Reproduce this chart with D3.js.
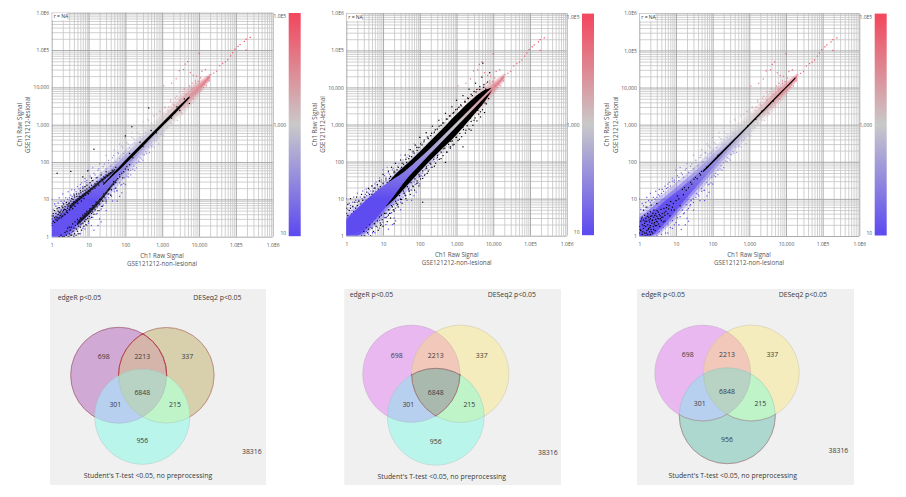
<!DOCTYPE html>
<html>
<head>
<meta charset="utf-8">
<script src="https://cdnjs.cloudflare.com/ajax/libs/d3/7.8.5/d3.min.js"></script>
<style>
  html, body { margin: 0; padding: 0; background: #fff; }
  svg { display: block; }
  text { font-family: "Open Sans", "Noto Sans", sans-serif; }
</style>
</head>
<body>
<svg id="chart" width="906" height="497"></svg>
<script>
// ---- Axis labels ----------------------------------------------------------
const decades = [1, 10, 100, 1000, 10000, 100000, 1000000];
const decadeLabels = ["1", "10", "100", "1,000", "10,000", "1.0E5", "1.0E6"];
const colorTicks = [10, 1000, 100000];
const colorTickLabels = ["10", "1,000", "1.0E5"];
const xTitle = ["Ch1 Raw Signal", "GSE121212-non-lesional"];
const yTitle = ["Ch1 Raw Signal", "GSE121212-lesional"];
const corrLabel = "r = NA";

// ---- Dense expression cloud shared by all three plots ---------------------
const cloudX    = [1, 1.5, 2, 3, 5, 10, 20, 50, 100, 200, 500, 1000, 2000, 5000, 10000, 20000];
const cloudLow  = [1, 1, 1, 1.3, 2.2, 4.8, 11, 31, 68, 145, 385, 810, 1620, 4100, 8500, 18500];
const cloudHigh = [2.6, 3.4, 4.3, 5.6, 8.8, 15, 27, 60, 118, 235, 580, 1180, 2350, 5800, 11000, 20500];
const midLow    = [1, 1, 1, 1.1, 1.8, 3.8, 8.5, 24, 53, 115, 310, 660, 1330, 3300, 7300, 16500];
const midHigh   = [3.2, 4.3, 5.4, 7.6, 11.5, 20, 36, 80, 160, 315, 770, 1550, 3100, 7500, 13000, 22500];
const haloLow   = [1, 1, 1, 1, 1.5, 3, 6.5, 18, 40, 90, 240, 520, 1050, 2600, 6000, 15000];
const haloHigh  = [4, 5.5, 7, 10, 15, 27, 48, 110, 220, 430, 1000, 2000, 4000, 9500, 15000, 24000];

// Individually visible genes outside the dense cloud
const genePoints = [
  [245000,218000],[190000,195000],[170000,170000],[130000,140000],[115000,125000],[95000,105000],[190000,100000],
  [82000,85000],[72000,70000],[60000,55000],[52000,48000],[44000,44000],[36000,38000],[30000,27000],[25000,24000],
  [21000,22000],[17000,18000],[10000,81000],[4900,49000],[4200,42000],[3800,30000],[2900,28000],[2400,17000],
  [1800,13000],[1100,11000],[5800,25000],[7000,21000],[8500,20000],[12000,27000],[15000,30000],[14000,12000],
  [19000,15000],[16000,11000],[9000,7500],[7000,5000],[5000,3200],[3500,2000],[2600,1300],[3000,4500],[2000,3500],
  [1500,3000],[1200,2800],[900,2200],[700,1900],[2300,5200],[1700,4600],[1000,2600],[4000,9000],[3000,7600],
  [6500,13000],[8000,15000],[1100,500],[800,300],[600,250],[450,180],[300,110],[250,100],[180,60],[120,40],[90,27],
  [60,17],[40,13],[30,10],[25,7],[20,5],[600,1800],[400,1400],[300,1200],[200,800],[150,600],[100,450],[70,300],
  [50,210],[30,150],[20,90],[13,70],[10,60],[15,45],[8,30],[6,25],[5,22],[3.5,18],[2.8,16],[2,14],[1.6,11],[1,10],
  [1.2,7.5],[1.5,8],[2.2,9],[3,11],[4,14],[6,20],[9,32],[12,38],[18,60],[25,75],[35,95],[45,130],[65,170],[85,240],
  [120,300],[170,420],[240,560],[350,800],[500,1100],[18,2],[22,2.5],[14,1.5],[12,2],[20,3],[30,5],[45,9],[60,9],
  [80,15],[100,25],[70,12],[140,45],[200,70],[280,120],[380,170],[520,260],[700,380],[950,560],[1300,800],[1800,1100],
  [8,1.6],[6,1.2],[10,2.3],[16,4],[24,6.5],[35,11],[50,16],[75,24],[110,42],[160,64],[230,105],[330,155],
  [1.1,5.2],[1.3,6.5],[1.5,6],[1.8,9],[2,8],[2.4,11],[2.7,10],[3.3,13],[3.6,12],[4.2,18],[4.6,16],[5.5,19],[6.5,28],
  [7,22],[8,36],[9,28],[11,42],[12,31],[14,50],[16,38],[19,66],[22,52],[27,88],[30,65],[35,110],[40,78],[48,150],
  [55,100],[62,180],[70,125],[80,270],[90,170],[110,330],[130,240],[150,460],[180,320],[210,620],[250,440],[300,900],
  [360,620],[420,1300],[500,880],[600,1700],[720,1200],[850,2300],[1000,1700],[1200,3000],[1450,2400],[1700,4100],
  [2100,3300],[2500,5800],[3000,4600],[3600,7800],[4500,6500],[5500,11000],[6500,9000],[8000,13000],[9500,14500],
  [11000,18000],[3,1],[3.5,1.3],[4,1.1],[4.5,1.7],[5.2,1.2],[6,2.1],[7,1.7],[8,2.6],[9,2],[11,3.1],[13,3.3],[15,5],
  [17,4.2],[19,7],[22,5.5],[26,9],[30,8],[36,14],[42,12],[50,19],[58,17],[70,28],[80,25],[95,38],[120,48],[140,60],
  [170,78],[200,95],[250,130],[300,160],[360,190],[430,250],[500,280],[620,380],[750,440],[900,560],[1100,690],
  [1400,850],[1700,1100],[2100,1350],[2600,1800],[3300,2100],[4000,2900],[5000,3800],[6500,5000],[8000,6500],
  [11000,8500],[13000,10000]
];

// ---- Highlighted genes, one set per plot ----------------------------------
const edgeBandUpperX = [3, 5, 10, 25, 50];
const edgeBandUpperLow = [5.5, 8.5, 15, 32, 55];
const edgeBandUpperHigh = [6.6, 10.4, 18, 38, 62];
const edgeBandLowerX = [5, 10, 20, 40, 60];
const edgeBandLowerLow = [2, 3.8, 8, 20, 33];
const edgeBandLowerHigh = [2.6, 5, 10.5, 24, 37];
const edgeCoreX = [25, 50, 100, 300, 1000, 3000, 5500];
const edgeCoreLow = [24, 46, 89, 265, 890, 2720, 5200];
const edgeCoreHigh = [26, 54, 112, 340, 1120, 3300, 5800];
const edgePoints = [
  [1,2.3],[1,3],[1.1,2.6],[1.1,3.6],[1.2,2.4],[1.2,3.2],[1.3,2.9],[1.3,4.2],[1.4,3.3],[1.4,2.7],[1.5,3.9],[1.5,4.8],
  [1.6,3.2],[1.6,4.4],[1.7,3.7],[1.8,5.2],[1.8,4.1],[1.9,3.5],[2,4.6],[2,6],[2.1,5.1],[2.2,4],[2.3,6.4],[2.4,5.3],
  [2.5,4.6],[2.6,7.2],[2.7,5.8],[2.8,6.6],[3,5.4],[3,8],[3.2,6.9],[3.3,9],[3.5,6.3],[3.6,7.7],[3.8,10],[4,7],[4,8.6],
  [4.2,11.5],[4.5,8.2],[4.6,9.6],[4.8,12],[5,9],[5.2,10.5],[5.5,14],[5.7,10],[6,11.8],[6.2,15],[6.5,11],[6.8,13],
  [7,16.5],[7.3,12],[7.6,14],[8,17.5],[8.3,13],[8.6,15.5],[9,19],[9.5,14.5],[10,17],[10.5,21],[11,16],[11.5,19],
  [12,24],[13,19],[14,22],[15,26],[16,23],[17,30],[18,26],[20,30],[22,35],[24,33],[26,40],[28,38],[30,45],[33,43],
  [36,50],[40,52],[44,60],[50,62],[55,72],
  [2.2,1],[2.5,1.1],[2.8,1],[2.6,1.4],[3,1.2],[3.2,1.5],[3.5,1.1],[3.4,1.8],[3.8,1.4],[4,1.7],[4.2,1.2],[4.4,2],
  [4.7,1.6],[5,2.2],[5,1.4],[5.4,1.9],[5.8,2.5],[6,1.8],[6.3,2.2],[6.6,2.9],[7,2.3],[7.4,3.1],[7.8,2.6],[8,3.5],
  [8.5,2.9],[9,3.8],[9.5,3.1],[10,4.2],[10.5,3.5],[11,4.9],[12,4.2],[12.5,5.5],[13,4.6],[14,6.2],[15,5.4],[16,7.2],
  [17,6.3],[18,8],[20,7.5],[22,10],[24,9],[26,12],[28,11],[30,15],[34,14],[38,19],[42,18],[48,25],[55,28],[62,36],
  [70,40],[80,50],[90,55],[110,75],[130,85],[1.4,50],[3.3,56],[14,220],[9.5,58],[7,40],[12,37],[150,880],[100,500],
  [430,2800],[5500,3700],[4000,4900],[2200,2100],[1800,1500],[700,600],[500,700],[300,260],[250,340],[160,130],
  [130,170],[3000,2400],[2500,3000],
  [1,2],[1,3.6],[1.1,4.2],[1.2,5],[1.3,3.4],[1.4,5.6],[1.5,3],[1.6,6],[1.7,4.6],[1.8,3.2],[1.9,6.6],[2,3.6],[2.1,7.5],
  [2.2,5.4],[2.3,3.9],[2.5,8.3],[2.6,5],[2.7,4.4],[2.9,7.6],[3.1,5.2],[3.3,6],[3.5,10.5],[3.7,5.6],[3.9,8.4],[4.1,13],
  [4.3,6.5],[4.7,14],[5.1,7.8],[5.6,12],[6,17],[6.4,9],[7,20],[7.5,10.5],[8,22],[9,24],[10,14],[11,28],[13,32],[15,20],
  [17,38],[19,24],[22,45],[25,29],[30,55],
  [1.6,1],[1.8,1.1],[2,1],[2.3,1.3],[2.7,1.7],[3,1.8],[3.3,1.1],[3.7,2.2],[4,1],[4.3,2.5],[4.6,1.1],[5,2.9],[5.5,1.2],
  [6,3.2],[6.5,1.5],[7,3.8],[7.5,1.9],[8,4.2],[8.5,2.1],[9,4.8],[10,2.6],[11,5.6],[12,3.3],[13,6.8],[14,4],[16,8.5],
  [18,5],[20,10],[23,6.5],[26,14],[30,9],[35,18],[40,13],[48,30],[55,20],[70,46],[85,38],[100,65],[120,62]
];

const deseqBandX = [12, 20, 40, 100, 300, 1000, 3000, 6000, 9000];
const deseqBandLow = [6, 9.5, 20, 54, 165, 530, 1850, 4300, 8000];
const deseqBandHigh = [22, 42, 78, 185, 550, 1900, 5300, 8600, 9800];
const coreX = [1, 3, 10, 20, 40, 100, 300, 1000, 3000, 6000, 12000];
const coreLow = [1, 1.5, 5, 12, 30, 82, 255, 885, 2700, 5500, 11000];
const coreHigh = [2.8, 8, 22, 35, 56, 124, 350, 1130, 3350, 6600, 13000];
const deseqPoints = [
  [1,4],[1,5.5],[1.1,3.5],[1.1,7],[1.2,4.8],[1.3,10],[1.3,5.5],[1.4,3.8],[1.5,6.2],[1.6,4.5],[1.7,8],[1.8,5.5],[1.9,11],
  [2,6.5],[2.2,8.5],[2.3,5.6],[2.5,7.2],[2.6,13],[2.8,9],[3,7.4],[3.2,11],[3.5,9],[3.6,15],[4,10],[4,19],[4.3,13],
  [4.5,11],[5,13],[5,22],[5.4,16],[5.8,13],[6,19],[6.5,15],[7,24],[7.5,18],[8,16],[8,30],[8.5,21],[9,18],[10,26],
  [10,45],[11,22],[12,34],[13,27],[14,55],[15,30],[16,40],[17,70],[18,36],[20,50],[22,90],[24,60],[27,46],[30,110],
  [32,70],[36,85],[40,150],[44,95],[50,120],[55,210],[60,135],[70,170],[75,280],[85,200],[95,240],[100,450],[115,280],
  [130,340],[150,600],[170,420],[200,500],[220,900],[250,620],[300,750],[330,1300],[380,950],[450,1100],[500,2000],
  [560,1400],[650,1700],[750,3000],[800,2000],[950,2500],[1000,4500],[1150,2900],[1300,3400],[1500,6000],[1700,4200],
  [2000,5200],[2200,9000],[2500,6500],[3000,7800],[3300,13000],[3600,8800],[4300,10500],[4900,19000],[5200,45000],[5600,12000],
  [7000,14000],[8000,25000],[2.6,1],[3,1.3],[3.2,1],[3.5,1.7],[3.8,1.2],[4,1.5],[4.3,2],[4.6,1],[5,1.6],[5,2.4],
  [5.5,1.3],[5.8,2.1],[6,3],[6.5,1.8],[7,2.5],[7.4,1.4],[8,3.2],[8.4,2.2],[9,3.6],[9.5,2.7],[10,1.8],[11,4],[12,3.1],
  [13,2.4],[14,5],[15,4],[16,3],[18,6],[20,4.6],[23,7.5],[26,6],[30,9.5],[33,7.5],[38,14],[42,10],[50,18],[55,13],
  [65,22],[72,17],[85,30],[100,40],[120,35],[150,65],[160,48],[200,85],[250,75],[300,130],[380,120],[450,220],[550,180],
  [700,350],[800,280],[1000,450],[1200,400],[1500,850],[1800,700],[2400,1500],[3000,1300],[3800,2400],[4500,2200],
  [6000,3800],[7500,5000],[120,8],[8.5,1.9],[20,2.1],[95,22],[500,95],[680,250],[2500,700],[1500,250],
  [15,35],[18,30],[20,55],[23,40],[26,70],[29,52],[33,90],[37,62],[42,115],[47,80],[53,140],[60,100],[66,190],[74,125],
  [83,240],[92,150],[105,300],[118,190],[132,380],[148,240],[165,460],[185,300],[210,580],[235,380],[265,720],[295,470],
  [335,900],[375,590],[420,1100],[470,740],[530,1400],[590,940],[670,1700],[750,1200],[840,2100],[940,1500],[1060,2600],
  [1190,1900],[1340,3200],[1500,2400],[1700,4000],[1900,3000],[2100,5000],[2400,3700],[2700,6000],[3000,4700],[3400,7500],
  [3800,5800],[4300,8800],[4800,7200],[5500,10000],[6200,9000],
  [12,4],[14,3.6],[17,6.5],[19,5],[22,8.5],[25,7],[28,12],[32,9.5],[36,16],[40,12],[46,21],[52,16],[58,27],[66,21],[74,34],
  [84,26],[95,44],[105,34],[120,56],[135,43],[152,72],[170,55],[190,90],[215,70],[240,115],[270,90],[305,145],[340,115],
  [385,180],[430,145],[480,230],[540,180],[610,290],[680,230],[770,360],[860,290],[970,450],[1100,370],[1230,570],[1380,470],
  [1550,730],[1750,590],[1950,930],[2200,750],[2500,1200],[2800,950],[3200,1500],[3600,1250],[4000,1900],[4500,1600],
  [5100,2500],[5800,2100],[6500,3600]
];

const ttestLineX = [55, 100, 300, 1000, 3000, 10000, 18000];
const ttestLineLow = [52, 93, 280, 940, 2820, 9500, 17200];
const ttestLineHigh = [58, 107, 320, 1060, 3180, 10500, 18800];
const ttestPoints = [
  [1,1.2],[1,1.8],[1.1,2.5],[1.1,1.4],[1.2,1.1],[1.2,2],[1.2,3.2],[1.3,1.6],[1.3,2.7],[1.4,1.2],[1.4,2.2],[1.4,3.6],
  [1.5,1.8],[1.5,1],[1.5,3],[1.6,1.4],[1.6,2.5],[1.7,1.1],[1.7,2],[1.7,4],[1.8,1.6],[1.8,3.2],[1.9,1.3],[1.9,2.4],
  [2,1.1],[2,1.9],[2,2.9],[2,4.5],[2.1,1.5],[2.2,3.5],[2.2,2.2],[2.3,1.2],[2.3,2.7],[2.4,1.8],[2.5,3.2],[2.5,5],[2.6,2.3],
  [2.7,1.4],[2.8,2.8],[2.8,4],[3,1.9],[3,3.4],[3.1,2.4],[3.3,4.4],[3.4,2.9],[3.6,1.8],[3.7,3.5],[3.9,5.2],[4,2.6],[4.2,4],
  [4.4,3.2],[4.7,5.5],[5,3.6],[5,2.5],[5.3,4.6],[5.7,7],[6,4],[6.3,5.4],[6.8,3.5],[7.2,8.5],[8,6],[8.5,7.5],[9,5],
  [10,9],[11,12],[12,10],[13,6.5],[15,18],[16,13],[19,17],[22,20],[27,25],[31,34],[38,35],[44,48],[50,55],
  [3,7.5],[1.6,6],[1.3,5],[2.1,6.8],[300,290],[140,150],[70,72],[900,930],[1500,1400],[2200,2300],[4500,4300],
  [1.05,1.5],[1.15,2.9],[1.25,1.3],[1.35,1.9],[1.45,2.5],[1.55,1.2],[1.65,3.4],[1.75,1.5],[1.85,2.7],[1.95,1.7],[2.05,3.4],
  [2.15,1.3],[2.25,2.6],[2.35,4.1],[2.45,1.5],[2.55,2.1],[2.65,3.6],[2.75,1.9],[2.9,2.5],[3.05,4.8],[3.2,3],[3.35,2.1],
  [3.5,3.8],[3.8,2.9],[4.1,3.2],[4.5,2.4],[4.8,4.2],[5.5,5.8],[6.5,6.6],[7.5,5],[17,20],[25,28],[34,38],[47,44]
];

// ---- Venn diagram contents ------------------------------------------------
const vennSetNames = ["edgeR p<0.05", "DESeq2 p<0.05", "Student's T-test <0.05, no preprocessing"];
const vennCounts = [698, 2213, 337, 6848, 301, 215, 956];
const vennOutside = 38316;

// ---- Layout ---------------------------------------------------------------
const plots = [
  { left: 51.7, right: 272.7, top: 12.7, bottom: 236.7, bar: 288.7, yT1: 20, yT2: 28, xC: 162, xT1: 256, xT2: 264 },
  { left: 346.3, right: 566.7, top: 13.3, bottom: 235.7, bar: 582, yT1: 315, yT2: 323, xC: 456.7, xT1: 255, xT2: 263 },
  { left: 639.3, right: 859.3, top: 13.3, bottom: 236, bar: 874.7, yT1: 607, yT2: 616, xC: 749, xT1: 255, xT2: 263 }
];
const vennLayouts = [
  { bg: [50, 289, 216, 196], A: [118.7, 375.3, 48], B: [166.3, 375.3, 47.8], C: [142.3, 416.7, 47.7],
    name0: [57.7, 298], name1: [193.3, 298], name2: [148, 476.5], outside: [261.7, 452.5],
    counts: [[103.7,357.5],[142.3,357.5],[187.3,357.5],[142.3,393.5],[115.3,405.5],[175,405.5],[142.3,441.5]] },
  { bg: [344.3, 289, 216.7, 196], A: [411.3, 373.8, 48.7], B: [460.3, 373.8, 48.7], C: [435.8, 416.8, 48.5],
    name0: [349.7, 295.5], name1: [487.7, 295.5], name2: [441.7, 477.5], outside: [557.7, 453],
    counts: [[396.7,356],[435.7,356],[481.7,356],[435.7,393],[408.3,405],[469.3,405],[435.7,442]] },
  { bg: [637, 289, 217, 196], A: [702.7, 373, 48], B: [751.3, 373, 48], C: [727.3, 415.7, 48],
    name0: [641.3, 295], name1: [778.7, 295], name2: [732.7, 476.5], outside: [848.3, 451.5],
    counts: [[687.7,355.5],[727,355.5],[772.3,355.5],[727,392],[699.7,404],[760.3,404],[727,440.5]] }
];
const plainFill = { A: "#e9b8f0", B: "#f4ecbc", C: "#baf5ec", AB: "#f2c8ba", AC: "#b8d0f0", BC: "#bff3c8", ABC: "#b8d2c4" };
const vennFills = [
  Object.assign({}, plainFill, { A: "#d0a9d4", B: "#d8cfac", AB: "#d5b5aa" }),
  Object.assign({}, plainFill, { ABC: "#a9b9ae" }),
  Object.assign({}, plainFill, { C: "#acd8d0" })
];

const signalColor = d3.scaleLog().domain([10, 1000, 100000])
  .range(["#5f4cf0", "#c9c9c9", "#f2495f"]).interpolate(d3.interpolateRgb).clamp(true);

const svg = d3.select("#chart");
const defs = svg.append("defs");

function envelope(x, y, xs, lows, highs) {
  return d3.area().x((d, i) => x(xs[i])).y0((d, i) => y(lows[i])).y1((d, i) => y(highs[i])).curve(d3.curveMonotoneX)(xs);
}

function drawPlot(p, idx) {
  const x = d3.scaleLog().domain([1, 1e6]).range([p.left, p.right]);
  const y = d3.scaleLog().domain([1, 1e6]).range([p.bottom, p.top]);
  const g = svg.append("g");

  // logarithmic grid: every 1..9 multiple, decades darker
  const minors = x.ticks().filter(v => !decades.includes(v));
  g.append("g").attr("transform", `translate(0,${p.bottom})`)
    .call(d3.axisBottom(x).tickValues(minors).tickSize(p.top - p.bottom).tickFormat(""))
    .call(s => s.select(".domain").remove())
    .selectAll("line").attr("stroke", "#c4c4c4").attr("stroke-width", 0.8);
  g.append("g").attr("transform", `translate(${p.left},0)`)
    .call(d3.axisLeft(y).tickValues(minors).tickSize(p.left - p.right).tickFormat(""))
    .call(s => s.select(".domain").remove())
    .selectAll("line").attr("stroke", "#c4c4c4").attr("stroke-width", 0.8);
  g.append("g").attr("transform", `translate(0,${p.bottom})`)
    .call(d3.axisBottom(x).tickValues(decades).tickSize(p.top - p.bottom).tickFormat(""))
    .call(s => s.select(".domain").remove())
    .selectAll("line").attr("stroke", "#a2a2a2").attr("stroke-width", 0.9);
  g.append("g").attr("transform", `translate(${p.left},0)`)
    .call(d3.axisLeft(y).tickValues(decades).tickSize(p.left - p.right).tickFormat(""))
    .call(s => s.select(".domain").remove())
    .selectAll("line").attr("stroke", "#a2a2a2").attr("stroke-width", 0.9);

  // tick labels
  const labelOf = v => decadeLabels[decades.indexOf(v)];
  const xAxis = g.append("g").attr("transform", `translate(0,${p.bottom})`)
    .call(d3.axisBottom(x).tickValues(decades).tickSize(0).tickPadding(6.5).tickFormat(labelOf));
  xAxis.select(".domain").remove();
  const yAxis = g.append("g").attr("transform", `translate(${p.left},0)`)
    .call(d3.axisLeft(y).tickValues(decades).tickSize(0).tickPadding(2.5).tickFormat(labelOf));
  yAxis.select(".domain").remove();
  g.selectAll(".tick text").attr("font-size", 5).attr("fill", "#555").attr("font-family", '"Open Sans", sans-serif');

  // data layer
  const clipId = `plot${idx}`;
  defs.append("clipPath").attr("id", clipId).append("rect")
    .attr("x", p.left).attr("y", p.top).attr("width", p.right - p.left).attr("height", p.bottom - p.top);
  const gradId = `signal${idx}`;
  const grad = defs.append("linearGradient").attr("id", gradId).attr("gradientUnits", "userSpaceOnUse")
    .attr("x1", 0).attr("x2", 0).attr("y1", y(10)).attr("y2", y(100000));
  [10, 100, 1000, 10000, 100000].forEach((v, i) =>
    grad.append("stop").attr("offset", i / 4).attr("stop-color", signalColor(v)));

  const data = g.append("g").attr("clip-path", `url(#${clipId})`);
  data.append("path").attr("d", envelope(x, y, cloudX, haloLow, haloHigh)).attr("fill", `url(#${gradId})`).attr("opacity", 0.28);
  data.append("path").attr("d", envelope(x, y, cloudX, midLow, midHigh)).attr("fill", `url(#${gradId})`).attr("opacity", 0.5);
  data.append("path").attr("d", envelope(x, y, cloudX, cloudLow, cloudHigh)).attr("fill", `url(#${gradId})`).attr("opacity", 0.9);
  const dot = (sel, pts, color) => sel.selectAll(null).data(pts).join("rect")
    .attr("x", d => x(d[0]) - 0.6).attr("y", d => y(d[1]) - 0.6)
    .attr("width", 1.2).attr("height", 1.2).attr("fill", color);
  dot(data.append("g"), genePoints, d => signalColor(d[1]));

  if (idx === 0) {
    [[edgeBandUpperX, edgeBandUpperLow, edgeBandUpperHigh],
     [edgeBandLowerX, edgeBandLowerLow, edgeBandLowerHigh],
     [edgeCoreX, edgeCoreLow, edgeCoreHigh]].forEach(b =>
      data.append("path").attr("d", envelope(x, y, b[0], b[1], b[2])).attr("fill", "#000").attr("opacity", b[0] === edgeCoreX ? 1 : 0.7));
    dot(data.append("g"), edgePoints, "#000");
  } else if (idx === 1) {
    data.append("path").attr("d", envelope(x, y, deseqBandX, deseqBandLow, deseqBandHigh)).attr("fill", "#000");
    dot(data.append("g"), deseqPoints, "#000");
    data.append("path").attr("d", envelope(x, y, coreX, coreLow, coreHigh)).attr("fill", `url(#${gradId})`);
  } else {
    data.append("path").attr("d", envelope(x, y, ttestLineX, ttestLineLow, ttestLineHigh)).attr("fill", "#000");
    dot(data.append("g"), ttestPoints, "#000");
  }

  // correlation note
  g.append("rect").attr("x", p.left + 0.5).attr("y", p.top + 0.5).attr("width", 15).attr("height", 7).attr("fill", "#fff");
  g.append("text").attr("x", p.left + 2).attr("y", p.top + 5.6).attr("font-size", 5).attr("fill", "#333").text(corrLabel);

  // titles
  g.append("text").attr("x", p.xC).attr("y", p.xT1 + 2).attr("text-anchor", "middle").attr("font-size", 6.2).attr("fill", "#555").text(xTitle[0]);
  g.append("text").attr("x", p.xC).attr("y", p.xT2 + 2).attr("text-anchor", "middle").attr("font-size", 6.2).attr("fill", "#555").text(xTitle[1]);
  const midY = (p.top + p.bottom) / 2;
  [[yTitle[0], p.yT1], [yTitle[1], p.yT2]].forEach(([t, tx]) =>
    g.append("text").attr("transform", `translate(${tx + 2},${midY}) rotate(-90)`).attr("text-anchor", "middle")
      .attr("font-size", 6.2).attr("fill", "#555").text(t));

  // colour legend
  const bar = d3.scaleLog().domain([8.8, 1.14e5]).range([p.bottom - 0.5, p.top + 0.3]);
  const barGradId = `bar${idx}`;
  const bg = defs.append("linearGradient").attr("id", barGradId).attr("gradientUnits", "userSpaceOnUse")
    .attr("x1", 0).attr("x2", 0).attr("y1", bar(10)).attr("y2", bar(100000));
  [10, 100, 1000, 10000, 100000].forEach((v, i) =>
    bg.append("stop").attr("offset", i / 4).attr("stop-color", signalColor(v)));
  g.append("rect").attr("x", p.bar).attr("width", 12).attr("y", bar(1.14e5)).attr("height", bar(8.8) - bar(1.14e5)).attr("fill", `url(#${barGradId})`);
  const barAxis = g.append("g").attr("transform", `translate(${p.bar - 2.5},0)`)
    .call(d3.axisLeft(bar).tickValues(colorTicks).tickSize(0).tickPadding(0).tickFormat(v => colorTickLabels[colorTicks.indexOf(v)]));
  barAxis.select(".domain").remove();
  barAxis.selectAll("text").attr("font-size", 5).attr("fill", "#555").attr("font-family", '"Open Sans", sans-serif');
}

function drawVenn(v, idx) {
  const g = svg.append("g");
  const fills = vennFills[idx];
  g.append("rect").attr("x", v.bg[0]).attr("y", v.bg[1]).attr("width", v.bg[2]).attr("height", v.bg[3]).attr("fill", "#f0f0f0");

  const clip = (name, c, pad) => {
    const id = `v${idx}${name}`;
    defs.append("clipPath").attr("id", id).append("circle").attr("cx", c[0]).attr("cy", c[1]).attr("r", c[2] + pad);
    return `url(#${id})`;
  };
  const notMask = (name, circles) => {
    const id = `m${idx}${name}`;
    const m = defs.append("mask").attr("id", id).attr("maskUnits", "userSpaceOnUse")
      .attr("x", 0).attr("y", 0).attr("width", 906).attr("height", 497);
    m.append("rect").attr("width", 906).attr("height", 497).attr("fill", "#fff");
    circles.forEach(c => m.append("circle").attr("cx", c[0]).attr("cy", c[1]).attr("r", c[2] - 0.4).attr("fill", "#000"));
    return `url(#${id})`;
  };
  const circle = (sel, c) => sel.append("circle").attr("cx", c[0]).attr("cy", c[1]).attr("r", c[2]);

  const inA = clip("A", v.A, 0), inB = clip("B", v.B, 0);
  circle(g, v.A).attr("fill", fills.A);
  circle(g, v.B).attr("fill", fills.B);
  circle(g, v.C).attr("fill", fills.C);
  circle(g.append("g").attr("clip-path", inA), v.B).attr("fill", fills.AB);
  circle(g.append("g").attr("clip-path", inA), v.C).attr("fill", fills.AC);
  circle(g.append("g").attr("clip-path", inB), v.C).attr("fill", fills.BC);
  circle(g.append("g").attr("clip-path", inA).append("g").attr("clip-path", inB), v.C).attr("fill", fills.ABC);

  // faint outlines
  [v.A, v.B, v.C].forEach(c => circle(g, c).attr("fill", "none").attr("stroke", "#8a8a8a").attr("stroke-opacity", 0.25).attr("stroke-width", 0.8));

  // outline of the selected region
  const edge = (sel, c, col, w) => circle(sel, c).attr("fill", "none").attr("stroke", col).attr("stroke-width", w);
  const padA = clip("Ap", v.A, 1), padB = clip("Bp", v.B, 1), padC = clip("Cp", v.C, 1);
  if (idx === 0) {
    const outer = g.append("g").attr("mask", notMask("C", [v.C]));
    edge(outer, v.A, "#b0708a", 0.9);
    edge(outer, v.B, "#c08a7c", 0.9);
    edge(outer.append("g").attr("clip-path", padB), v.A, "#bb4050", 1);
    edge(outer.append("g").attr("clip-path", padA), v.B, "#bb4050", 1);
  } else if (idx === 1) {
    edge(g.append("g").attr("clip-path", padB).append("g").attr("clip-path", padC), v.A, "#a27270", 0.9);
    edge(g.append("g").attr("clip-path", padA).append("g").attr("clip-path", padC), v.B, "#a27270", 0.9);
    edge(g.append("g").attr("clip-path", padA).append("g").attr("clip-path", padB), v.C, "#a27270", 0.9);
  } else {
    edge(g.append("g").attr("mask", notMask("AB", [v.A, v.B])), v.C, "#a89090", 0.9);
    edge(g.append("g").attr("clip-path", padC).append("g").attr("mask", notMask("B", [v.B])), v.A, "#a89aa0", 0.8);
    edge(g.append("g").attr("clip-path", padC).append("g").attr("mask", notMask("A", [v.A])), v.B, "#a89aa0", 0.8);
  }

  const label = (pos, t, anchor) => g.append("text").attr("x", pos[0]).attr("y", pos[1])
    .attr("text-anchor", anchor).attr("dominant-baseline", "middle").attr("font-size", 6.9).attr("fill", "#3a3a3a").text(t);
  label(v.name0, vennSetNames[0], "start");
  label(v.name1, vennSetNames[1], "start");
  label(v.name2, vennSetNames[2], "middle");
  label(v.outside, vennOutside, "end");
  vennCounts.forEach((n, i) => label(v.counts[i], n, "middle"));
}

plots.forEach(drawPlot);
vennLayouts.forEach(drawVenn);
</script>
</body>
</html>
